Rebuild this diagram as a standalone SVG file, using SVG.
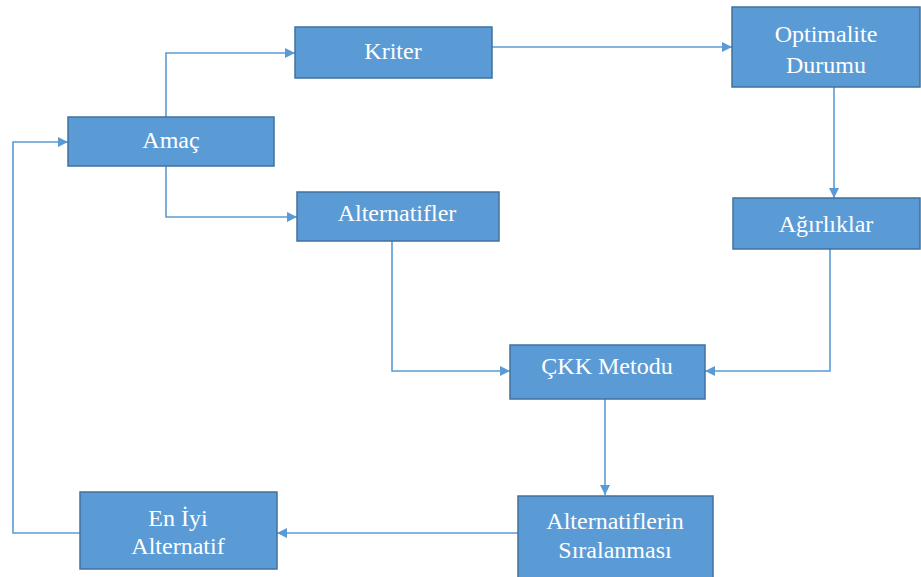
<svg xmlns="http://www.w3.org/2000/svg" width="921" height="577" viewBox="0 0 921 577">
<style>
.box{fill:#5B9BD5;stroke:#41719C;stroke-width:1.5}
.lbl{font-family:"Liberation Serif","Times New Roman",serif;font-size:24px;fill:#FFFFFF;text-anchor:middle;dominant-baseline:central}
.c{fill:none;stroke:#5B9BD5;stroke-width:1.6}
</style>
<defs>
<marker id="ah" viewBox="0 0 10 10" refX="10" refY="5" markerWidth="10" markerHeight="10" markerUnits="userSpaceOnUse" orient="auto">
<path d="M0,0 L10,5 L0,10 Z" fill="#5B9BD5"/>
</marker>
</defs>
<rect width="921" height="577" fill="#FFFFFF"/>
<g id="connectors">
<path class="c" d="M166,117 V53 H295" marker-end="url(#ah)"/>
<path class="c" d="M166,166 V217 H297" marker-end="url(#ah)"/>
<path class="c" d="M492,47 H732" marker-end="url(#ah)"/>
<path class="c" d="M834,87 V198" marker-end="url(#ah)"/>
<path class="c" d="M392,241 V371 H510" marker-end="url(#ah)"/>
<path class="c" d="M830,249 V371 H705" marker-end="url(#ah)"/>
<path class="c" d="M605,399 V495" marker-end="url(#ah)"/>
<path class="c" d="M518,533 H277" marker-end="url(#ah)"/>
<path class="c" d="M80,533 H13 V142 H68" marker-end="url(#ah)"/>
</g>
<g id="kriter"><rect class="box" x="295" y="27" width="197" height="51"/><text class="lbl" x="393" y="51">Kriter</text></g>
<g id="amac"><rect class="box" x="68" y="117" width="206" height="49"/><text class="lbl" x="171" y="140">Amaç</text></g>
<g id="alternatifler"><rect class="box" x="297" y="192" width="202" height="49"/><text class="lbl" x="397" y="213">Alternatifler</text></g>
<g id="optimalite"><rect class="box" x="732" y="7" width="188" height="80"/><text class="lbl" x="826" y="34">Optimalite</text><text class="lbl" x="826" y="65">Durumu</text></g>
<g id="agirliklar"><rect class="box" x="733" y="198" width="187" height="51"/><text class="lbl" x="826" y="224">Ağırlıklar</text></g>
<g id="ckk"><rect class="box" x="510" y="345" width="195" height="54"/><text class="lbl" x="607" y="366">ÇKK Metodu</text></g>
<g id="siralanmasi"><rect class="box" x="518" y="496" width="195" height="84"/><text class="lbl" x="615" y="521">Alternatiflerin</text><text class="lbl" x="615" y="550">Sıralanması</text></g>
<g id="eniyi"><rect class="box" x="80" y="492" width="197" height="77"/><text class="lbl" x="178" y="518">En İyi</text><text class="lbl" x="178" y="546">Alternatif</text></g>
</svg>
